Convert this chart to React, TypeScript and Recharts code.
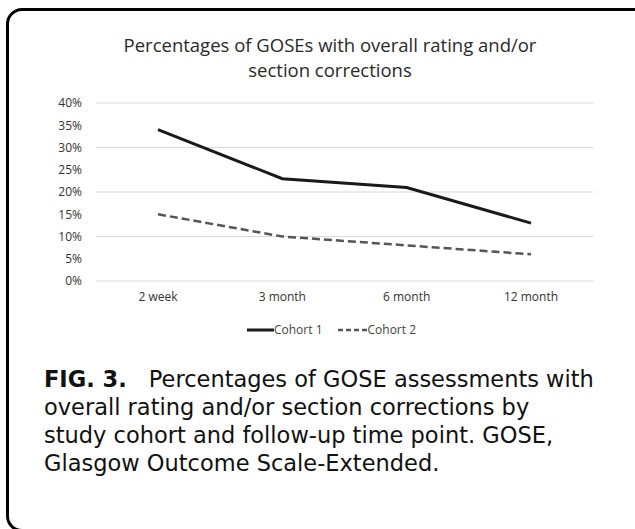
import { LineChart, Line, XAxis, YAxis, CartesianGrid, Legend } from "recharts";

// time points and cohort percentages
const timePoints = ["2 week", "3 month", "6 month", "12 month"];
const cohort1 = [34, 23, 21, 13];
const cohort2 = [15, 10, 8, 6];
const yTicks = [0, 5, 10, 15, 20, 25, 30, 35, 40];

const titleLines = ["Percentages of GOSEs with overall rating and/or", "section corrections"];
const captionLines = [
    "overall rating and/or section corrections by",
    "study cohort and follow-up time point. GOSE,",
    "Glasgow Outcome Scale-Extended.",
];

const data = timePoints.map((t, i) => ({ name: t, c1: cohort1[i], c2: cohort2[i] }));

const chartFont = "'Open Sans', sans-serif";
const captionFont = "'DejaVu Sans', sans-serif";
const tickStyle = { fill: "#333", fontSize: 12, fontFamily: chartFont };

function LegendContent() {
    return (
        <div style={{ display: "flex", justifyContent: "center", alignItems: "center", fontFamily: chartFont, fontSize: 12, color: "#444", paddingLeft: 70 }}>
            <svg width={27} height={6}><line x1={0} y1={3} x2={27} y2={3} stroke="#1a1a1a" strokeWidth={3} /></svg>
            <span style={{ marginRight: 15 }}>Cohort 1</span>
            <svg width={30} height={6}><line x1={0} y1={3} x2={30} y2={3} stroke="#555" strokeWidth={2.5} strokeDasharray="5 3" /></svg>
            <span>Cohort 2</span>
        </div>
    );
}

export default function App() {
    return (
        <div style={{ position: "absolute", left: 0, top: 0, width: 635, height: 529, background: "#fff", overflow: "hidden" }}>
            {/* rounded frame, right and bottom edges run off the page */}
            <div style={{ position: "absolute", left: 6, top: 8, width: 700, height: 524, border: "3px solid #000", borderRadius: 16, boxSizing: "border-box" }} />

            <div style={{ position: "absolute", left: 0, top: 32, width: 660, textAlign: "center", fontFamily: chartFont, fontSize: 18.5, lineHeight: "25px", color: "#2a2a2a" }}>
                {titleLines.map((l) => <div key={l}>{l}</div>)}
            </div>

            <div style={{ position: "absolute", left: 0, top: 0 }}>
                <LineChart width={635} height={345} data={data} margin={{ top: 103, right: 42, left: 0, bottom: 0 }}>
                    <CartesianGrid vertical={false} stroke="#d9d9d9" strokeWidth={1} />
                    <XAxis
                        dataKey="name"
                        axisLine={false}
                        tickLine={false}
                        tickMargin={5}
                        height={40}
                        padding={{ left: 62, right: 62 }}
                        tick={tickStyle}
                    />
                    <YAxis
                        width={96}
                        domain={[0, 40]}
                        ticks={yTicks}
                        tickFormatter={(v) => `${v}%`}
                        axisLine={false}
                        tickLine={false}
                        tickMargin={8}
                        tick={tickStyle}
                    />
                    <Legend verticalAlign="bottom" height={24} content={<LegendContent />} />
                    <Line dataKey="c1" name="Cohort 1" stroke="#1a1a1a" strokeWidth={3} dot={false} isAnimationActive={false} />
                    <Line dataKey="c2" name="Cohort 2" stroke="#555" strokeWidth={2.5} strokeDasharray="8 4" dot={false} isAnimationActive={false} />
                </LineChart>
            </div>

            <div style={{ position: "absolute", left: 44, top: 365, fontFamily: captionFont, fontSize: 22.5, lineHeight: "28px", color: "#111" }}>
                <div>
                    <b>FIG. 3.</b>
                    <span style={{ marginLeft: 22 }}>Percentages of GOSE assessments with</span>
                </div>
                {captionLines.map((l) => <div key={l}>{l}</div>)}
            </div>
        </div>
    );
}
